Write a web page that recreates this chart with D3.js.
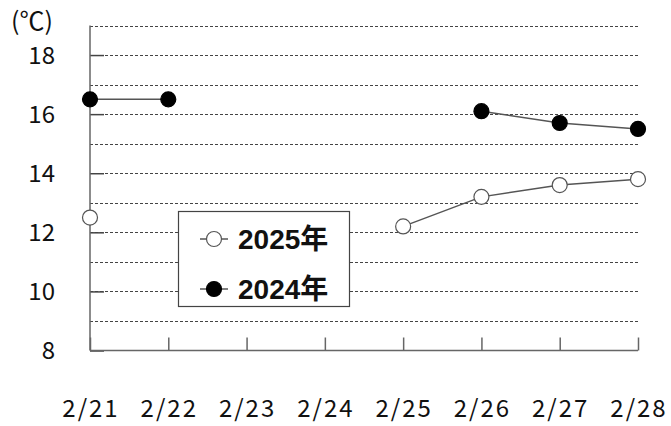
<!DOCTYPE html>
<html>
<head>
<meta charset="utf-8">
<script src="https://cdn.jsdelivr.net/npm/d3@7"></script>
<style>
  body { margin: 0; background: #fff; }
  text { font-family: "Noto Sans CJK JP", "Noto Sans", sans-serif; fill: #111; }
  .legendText { font-family: "Liberation Sans", "Noto Sans CJK JP", sans-serif; font-weight: bold; }
</style>
</head>
<body>
<div id="chart"></div>
<script>
// Chart data
var dates = ["2/21", "2/22", "2/23", "2/24", "2/25", "2/26", "2/27", "2/28"];
var temps2025 = [12.5, null, null, null, 12.2, 13.2, 13.6, 13.8];
var temps2024 = [16.5, 16.5, null, null, null, 16.1, 15.7, 15.5];
var yTicks = [8, 10, 12, 14, 16, 18];
var gridValues = [9, 10, 11, 12, 13, 14, 15, 16, 17, 18, 19];

var svgWidth = 671;
var svgHeight = 426;

var svg = d3.select("#chart")
  .append("svg")
  .attr("width", svgWidth)
  .attr("height", svgHeight);

// plot area bounds
var plotLeft = 90, plotRight = 638, plotTop = 25.5, plotBottom = 350.5;

var xScale = d3.scalePoint()
  .domain(dates)
  .range([plotLeft, plotRight]);

var yScale = d3.scaleLinear()
  .domain([8, 19])
  .range([plotBottom, plotTop]);

// dashed grid lines
svg.append("g")
  .selectAll("line")
  .data(gridValues)
  .enter()
  .append("line")
  .attr("x1", plotLeft)
  .attr("x2", plotRight)
  .attr("y1", d => Math.round(yScale(d)) + 0.5)
  .attr("y2", d => Math.round(yScale(d)) + 0.5)
  .attr("stroke", "#444")
  .attr("stroke-width", 1)
  .attr("stroke-dasharray", "3,2");

// y axis (ticks pointing inward)
var yAxis = d3.axisRight(yScale)
  .tickValues(yTicks)
  .tickSize(14)
  .tickFormat("");

var yG = svg.append("g")
  .attr("transform", `translate(${plotLeft}, 0)`)
  .call(yAxis);
yG.select(".domain").remove();
yG.selectAll(".tick line").attr("stroke", "#444").attr("stroke-width", 1.5);

svg.append("line")
  .attr("x1", plotLeft).attr("x2", plotLeft)
  .attr("y1", plotTop).attr("y2", plotBottom)
  .attr("stroke", "#666").attr("stroke-width", 1.5);

// y labels
svg.append("g")
  .selectAll("text")
  .data(yTicks)
  .enter()
  .append("text")
  .attr("x", 55)
  .attr("y", d => yScale(d))
  .attr("dy", "0.36em")
  .attr("text-anchor", "end")
  .style("font-size", "24px")
  .text(d => d);

svg.append("text")
  .attr("x", 11)
  .attr("y", 30)
  .style("font-size", "25px")
  .text("(℃)");

// x axis (ticks pointing up)
var xAxis = d3.axisTop(xScale)
  .tickSize(13)
  .tickFormat("");

var xG = svg.append("g")
  .attr("transform", `translate(0, ${plotBottom})`)
  .call(xAxis);
xG.select(".domain").remove();
xG.selectAll(".tick line").attr("stroke", "#666").attr("stroke-width", 1.5);

svg.append("line")
  .attr("x1", plotLeft).attr("x2", plotRight)
  .attr("y1", plotBottom).attr("y2", plotBottom)
  .attr("stroke", "#666").attr("stroke-width", 1.5);

svg.append("g")
  .selectAll("text")
  .data(dates)
  .enter()
  .append("text")
  .attr("x", d => xScale(d))
  .attr("y", 417)
  .attr("dx", 1)
  .attr("text-anchor", "middle")
  .style("font-size", "24px")
  .style("letter-spacing", "2px")
  .text(d => d);

// series
function drawSeries(values, fill, stroke) {
  var pts = dates.map((d, i) => ({ date: d, value: values[i] }));
  var line = d3.line()
    .defined(d => d.value != null)
    .x(d => xScale(d.date))
    .y(d => yScale(d.value));

  svg.append("path")
    .datum(pts)
    .attr("fill", "none")
    .attr("stroke", "#555")
    .attr("stroke-width", 1.5)
    .attr("d", line);

  svg.append("g")
    .selectAll("circle")
    .data(pts.filter(d => d.value != null))
    .enter()
    .append("circle")
    .attr("cx", d => xScale(d.date))
    .attr("cy", d => yScale(d.value))
    .attr("r", 7.5)
    .attr("fill", fill)
    .attr("stroke", stroke)
    .attr("stroke-width", 1.2);
}

drawSeries(temps2025, "#fff", "#555");
drawSeries(temps2024, "#000", "#000");

// legend
var legend = svg.append("g");
legend.append("rect")
  .attr("x", 178.5).attr("y", 211.5)
  .attr("width", 171).attr("height", 95)
  .attr("fill", "#fff")
  .attr("stroke", "#444")
  .attr("stroke-width", 1.2);

var legendItems = [
  { label: "2025年", fill: "#fff", stroke: "#555", y: 239 },
  { label: "2024年", fill: "#000", stroke: "#000", y: 289 }
];

legendItems.forEach(function(item) {
  legend.append("line")
    .attr("x1", 200).attr("x2", 228)
    .attr("y1", item.y).attr("y2", item.y)
    .attr("stroke", "#555").attr("stroke-width", 1.5);
  legend.append("circle")
    .attr("cx", 214).attr("cy", item.y)
    .attr("r", 7.5)
    .attr("fill", item.fill)
    .attr("stroke", item.stroke)
    .attr("stroke-width", 1.2);
  legend.append("text")
    .classed("legendText", true)
    .attr("x", 238)
    .attr("y", item.y)
    .attr("dy", "0.36em")
    .style("font-size", "28px")
    .text(item.label);
});
</script>
</body>
</html>
